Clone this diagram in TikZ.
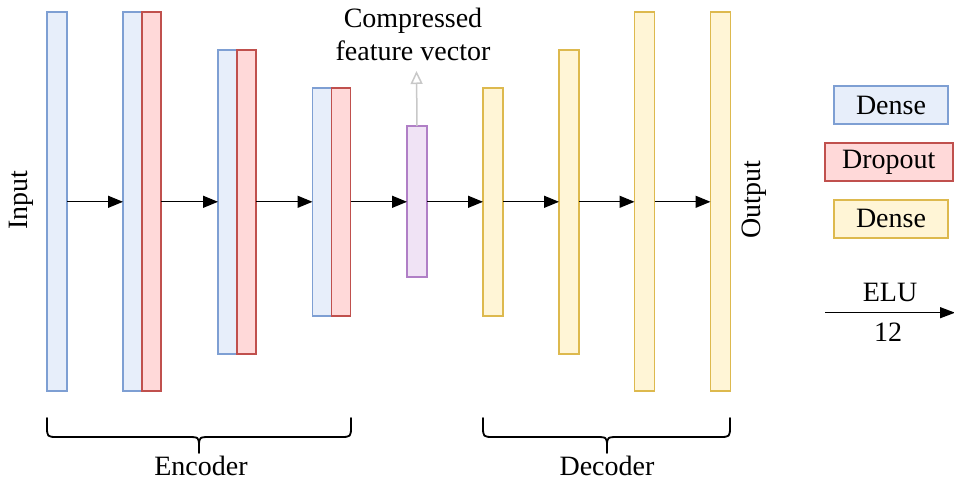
\documentclass[tikz,border=0pt]{standalone}
\usepackage{fontspec}
\setmainfont{Liberation Serif}
\usetikzlibrary{arrows.meta}

\definecolor{bluefill}{HTML}{E7EEFA}
\definecolor{bluedraw}{HTML}{7E9FD3}
\definecolor{redfill}{HTML}{FFD9D9}
\definecolor{reddraw}{HTML}{C0504D}
\definecolor{yelfill}{HTML}{FFF5D6}
\definecolor{yeldraw}{HTML}{DDB94E}
\definecolor{purfill}{HTML}{F0E3F5}
\definecolor{purdraw}{HTML}{B07FC6}
\definecolor{hintgray}{HTML}{C8C8C8}

\begin{document}
\begin{tikzpicture}[x=1pt,y=-1pt,
  every node/.style={font=\fontsize{28}{33}\selectfont, inner sep=0pt, outer sep=0pt},
  bar/.style={draw, rectangle, line width=1.6pt, minimum width=#1},
  bar/.default=19pt,
  densebar/.style={bar, fill=bluefill, draw=bluedraw},
  dropbar/.style={bar, fill=redfill, draw=reddraw},
  decbar/.style={bar=20pt, fill=yelfill, draw=yeldraw},
  codebar/.style={bar=20pt, fill=purfill, draw=purdraw},
  flow/.style={draw=black, line width=1.3pt, -{Triangle[length=15pt,width=12pt]}},
  legendbox/.style={draw, rectangle, line width=1.6pt, minimum height=38pt},
  bracket/.style={draw=black, line width=1.8pt, line cap=round, line join=round}
]
\useasboundingbox (0,0) rectangle (954,482);

% encoder layers
\node[densebar, bar=20pt, minimum height=379pt] (in) at (57,201.5) {};
\node[densebar, minimum height=379pt] (e1b) at (132.5,201.5) {};
\node[dropbar,  minimum height=379pt] (e1r) at (151.5,201.5) {};
\node[densebar, minimum height=304pt] (e2b) at (227.5,201.8) {};
\node[dropbar,  minimum height=304pt] (e2r) at (246.5,201.8) {};
\node[densebar, minimum height=228pt] (e3b) at (322,201.8) {};
\node[dropbar,  minimum height=228pt] (e3r) at (341,201.8) {};

% bottleneck
\node[codebar, minimum height=151pt] (code) at (417,201.5) {};

% decoder layers
\node[decbar, minimum height=228pt] (d1) at (493,201.8) {};
\node[decbar, minimum height=304pt] (d2) at (569,201.8) {};
\node[decbar, minimum height=379pt] (d3) at (644.5,201.5) {};
\node[decbar, minimum height=379pt] (d4) at (720.5,201.5) {};

% data flow
\draw[flow] (in.east |- 0,201.8) -- (e1b.west |- 0,201.8);
\draw[flow] (e1r.east |- 0,201.8) -- (e2b.west |- 0,201.8);
\draw[flow] (e2r.east |- 0,201.8) -- (e3b.west |- 0,201.8);
\draw[flow] (e3r.east |- 0,201.8) -- (code.west |- 0,201.8);
\draw[flow] (code.east |- 0,201.8) -- (d1.west |- 0,201.8);
\draw[flow] (d1.east |- 0,201.8) -- (d2.west |- 0,201.8);
\draw[flow] (d2.east |- 0,201.8) -- (d3.west |- 0,201.8);
\draw[flow] (d3.east |- 0,201.8) -- (d4.west |- 0,201.8);

% compressed feature vector label
\coordinate (cfvtip) at (416.5,71);
\draw[draw=hintgray, line width=1.5pt, -{Triangle[open,length=13pt,width=12pt]}] (code.north) -- (cfvtip);
\node[anchor=base] (cfv1) at (413,27) {Compressed};
\node[anchor=base] (cfv2) at (413,60) {feature vector};

% input / output labels
\node[rotate=90] (inlbl) at (21,200) {Input};
\node[rotate=90] (outlbl) at (754,200) {Output};

% legend
\node[legendbox, fill=bluefill, draw=bluedraw, minimum width=114pt] (lg1) at (891,105) {Dense};
\node[legendbox, fill=redfill, draw=reddraw, minimum width=128pt] (lg2) at (888.8,162) {Dropout};
\node[legendbox, fill=yelfill, draw=yeldraw, minimum width=114pt] (lg3) at (891,218.7) {Dense};

\coordinate (elus) at (825,312.7);
\coordinate (elue) at (955,312.7);
\draw[flow, -{Triangle[length=15pt,width=11pt]}] (elus) -- (elue);
\node[anchor=base] (elu) at (890,301) {ELU};
\node[anchor=base] (twelve) at (888,341.5) {12};

% encoder brace
\draw[bracket] (47,418) -- (47,426) .. controls (47,437) .. (58,437) -- (187,437)
  .. controls (199,437) .. (199,447) -- (199,453);
\draw[bracket] (351,418) -- (351,426) .. controls (351,437) .. (340,437) -- (211,437)
  .. controls (199,437) .. (199,447);
\node[anchor=base] (enc) at (201,475) {Encoder};

% decoder brace
\draw[bracket] (483,418) -- (483,426) .. controls (483,437) .. (494,437) -- (595,437)
  .. controls (607,437) .. (607,447) -- (607,453);
\draw[bracket] (730,418) -- (730,426) .. controls (730,437) .. (719,437) -- (619,437)
  .. controls (607,437) .. (607,447);
\node[anchor=base] (dec) at (607,475) {Decoder};
\end{tikzpicture}
\end{document}
